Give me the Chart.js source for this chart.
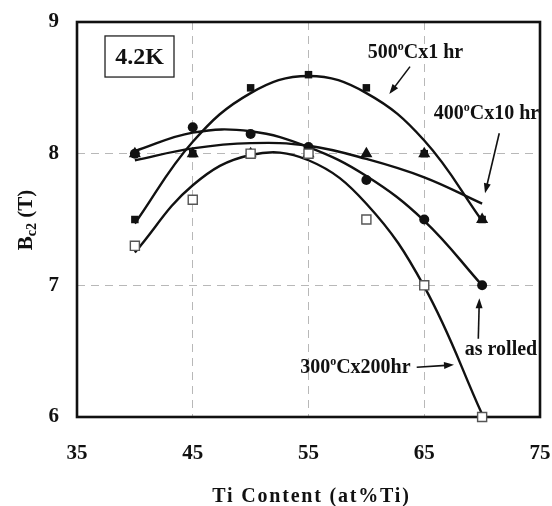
<!DOCTYPE html>
<html>
<head>
<meta charset="utf-8">
<script src="https://cdn.jsdelivr.net/npm/chart.js@4.4.1/dist/chart.umd.min.js"></script>
<style>
  html, body { margin: 0; padding: 0; background: #fff; }
  #wrap { width: 552px; height: 506px; }
</style>
</head>
<body>
<div id="wrap"><canvas id="bc2" width="552" height="506"></canvas></div>
<script>
// Ti content of the samples (at% Ti)
const tiContent = [40, 45, 50, 55, 60, 65, 70];

// measured Bc2 (T) at 4.2K
const h500x1 = [7.5, 8.0, 8.5, 8.6, 8.5, 8.0, 7.5];
const asRolled = [8.0, 8.2, 8.15, 8.05, 7.8, 7.5, 7.0];
const h400x10 = [8.0, 8.0, 8.0, 8.0, 8.0, 8.0, 7.5];
const h300x200 = [7.3, 7.65, 8.0, 8.0, 7.5, 7.0, 6.0];

// trend curves at the same Ti contents
const curve500x1 = [7.47, 8.09, 8.46, 8.59, 8.46, 8.10, 7.49];
const curveRolled = [8.02, 8.16, 8.17, 8.05, 7.83, 7.49, 7.0];
const curve400x10 = [7.95, 8.04, 8.08, 8.06, 7.96, 7.82, 7.62];
const curve300x200 = [7.25, 7.76, 7.99, 7.95, 7.62, 6.99, 6.02];

const xTicks = [35, 45, 55, 65, 75];
const yTicks = [6, 7, 8, 9];

const serif = "'Liberation Serif', 'Times New Roman', serif";

function pts(ys) {
  return tiContent.map((x, i) => ({ x: x, y: ys[i] }));
}

function markers(label, ys, style, radius, fill, stroke, bw) {
  return {
    label: label,
    data: pts(ys),
    showLine: false,
    pointStyle: style,
    pointRadius: radius,
    pointBackgroundColor: fill,
    pointBorderColor: stroke,
    pointBorderWidth: bw,
    clip: false
  };
}

function curve(label, ys) {
  return {
    label: label,
    data: pts(ys),
    showLine: true,
    borderColor: '#111',
    borderWidth: 2.4,
    pointRadius: 0,
    tension: 0.4,
    fill: false,
    clip: false
  };
}

// text with a small raised "o" (degree sign as printed in the figure)
function richText(ctx, parts, cx, cy, size) {
  let total = 0;
  parts.forEach(p => {
    ctx.font = 'bold ' + (p.sup ? Math.round(size * 0.6) : size) + 'px ' + serif;
    p.w = ctx.measureText(p.t).width;
    total += p.w;
  });
  let x = cx - total / 2;
  ctx.textBaseline = 'middle';
  ctx.textAlign = 'left';
  parts.forEach(p => {
    ctx.font = 'bold ' + (p.sup ? Math.round(size * 0.6) : size) + 'px ' + serif;
    ctx.fillText(p.t, x, p.sup ? cy - size * 0.32 : cy);
    x += p.w;
  });
}

function arrow(ctx, x1, y1, x2, y2) {
  const a = Math.atan2(y2 - y1, x2 - x1);
  const len = 10, half = 3.5;
  ctx.beginPath();
  ctx.moveTo(x1, y1);
  ctx.lineTo(x2 - Math.cos(a) * len * 0.8, y2 - Math.sin(a) * len * 0.8);
  ctx.lineWidth = 1.6;
  ctx.strokeStyle = '#111';
  ctx.stroke();
  ctx.beginPath();
  ctx.moveTo(x2, y2);
  ctx.lineTo(x2 - Math.cos(a) * len - Math.sin(a) * half, y2 - Math.sin(a) * len + Math.cos(a) * half);
  ctx.lineTo(x2 - Math.cos(a) * len + Math.sin(a) * half, y2 - Math.sin(a) * len - Math.cos(a) * half);
  ctx.closePath();
  ctx.fillStyle = '#111';
  ctx.fill();
}

const framePlugin = {
  id: 'frame',
  beforeDatasetsDraw(chart) {
    const { ctx, chartArea: a } = chart;
    ctx.save();
    ctx.lineWidth = 2.6;
    ctx.strokeStyle = '#111';
    ctx.strokeRect(a.left, a.top, a.right - a.left, a.bottom - a.top);
    ctx.restore();
  },
  afterDraw(chart) {
    const { ctx, chartArea: a } = chart;
    const xs = chart.scales.x, ys = chart.scales.y;
    const px = v => xs.getPixelForValue(v);
    const py = v => ys.getPixelForValue(v);
    ctx.save();
    ctx.fillStyle = '#111';

    // 4.2K box
    ctx.lineWidth = 1.3;
    ctx.strokeStyle = '#222';
    ctx.fillStyle = '#fff';
    ctx.fillRect(px(37.42), py(8.894), px(43.38) - px(37.42), py(8.582) - py(8.894));
    ctx.strokeRect(px(37.42), py(8.894), px(43.38) - px(37.42), py(8.582) - py(8.894));
    ctx.fillStyle = '#111';
    richText(ctx, [{ t: '4.2K' }], px(40.4), py(8.738) + 1, 24);

    // series labels and arrows
    richText(ctx, [{ t: '500' }, { t: 'o', sup: true }, { t: 'Cx1 hr' }], px(64.24), py(8.765), 20);
    arrow(ctx, px(63.77), py(8.661), px(61.98), py(8.453));

    richText(ctx, [{ t: '400' }, { t: 'o', sup: true }, { t: 'Cx10 hr' }], px(70.38), py(8.301), 20);
    arrow(ctx, px(71.48), py(8.155), px(70.25), py(7.699));

    richText(ctx, [{ t: 'as rolled' }], px(71.63), py(6.51), 20);
    arrow(ctx, px(69.67), py(6.595), px(69.76), py(6.902));

    richText(ctx, [{ t: '300' }, { t: 'o', sup: true }, { t: 'Cx200hr' }], px(59.05), py(6.37), 20);
    arrow(ctx, px(64.35), py(6.378), px(67.57), py(6.396));

    // x axis title
    ctx.font = 'bold 20px ' + serif;
    ctx.textAlign = 'center';
    ctx.textBaseline = 'middle';
    ctx.letterSpacing = '1.8px';
    ctx.fillText('Ti Content (at%Ti)', (a.left + a.right) / 2 + 3, 497);
    ctx.letterSpacing = '0px';

    // y axis title: B with subscript c2
    ctx.translate(27, 220);
    ctx.rotate(-Math.PI / 2);
    const parts = [
      { t: 'B', f: 'bold 21px ' + serif, dy: 0 },
      { t: 'c2', f: 'bold 14px ' + serif, dy: 5 },
      { t: ' (T)', f: 'bold 21px ' + serif, dy: 0 }
    ];
    let tw = 0;
    parts.forEach(p => { ctx.font = p.f; p.w = ctx.measureText(p.t).width; tw += p.w; });
    let x = -tw / 2;
    ctx.textAlign = 'left';
    parts.forEach(p => { ctx.font = p.f; ctx.fillText(p.t, x, p.dy); x += p.w; });
    ctx.restore();
  }
};

const config = {
  type: 'scatter',
  data: {
    datasets: [
      markers('300oCx200hr', h300x200, 'rect', 6.4, '#fff', '#555', 1.4),
      markers('500oCx1 hr', h500x1, 'rect', 5.3, '#111', '#111', 0),
      markers('400oCx10 hr', h400x10, 'triangle', 7, '#111', '#111', 0),
      markers('as rolled', asRolled, 'circle', 5, '#111', '#111', 0),
      curve('500oCx1 hr fit', curve500x1),
      curve('as rolled fit', curveRolled),
      curve('400oCx10 hr fit', curve400x10),
      curve('300oCx200hr fit', curve300x200)
    ]
  },
  options: {
    responsive: false,
    animation: false,
    devicePixelRatio: 1,
    layout: { padding: { top: 22, right: 12, left: 0, bottom: 0 } },
    plugins: {
      legend: { display: false },
      tooltip: { enabled: false }
    },
    scales: {
      x: {
        type: 'linear',
        min: 35,
        max: 75,
        afterBuildTicks: s => { s.ticks = xTicks.map(v => ({ value: v })); },
        afterFit: s => {
          s.height = 89;
          s.paddingLeft = 0;
          s.paddingRight = 0;
        },
        ticks: {
          color: '#111',
          padding: 24,
          font: { family: serif, size: 21, weight: 'bold' }
        },
        grid: { color: '#b8b8b8', lineWidth: 1, drawTicks: false },
        border: { display: false, dash: [8, 6] }
      },
      y: {
        min: 6,
        max: 9,
        afterBuildTicks: s => { s.ticks = yTicks.map(v => ({ value: v })); },
        afterFit: s => {
          s.width = 77;
          s.paddingTop = 0;
          s.paddingBottom = 0;
        },
        ticks: {
          color: '#111',
          padding: 18,
          font: { family: serif, size: 21, weight: 'bold' }
        },
        grid: { color: '#b8b8b8', lineWidth: 1, drawTicks: false },
        border: { display: false, dash: [8, 6] }
      }
    }
  },
  plugins: [framePlugin]
};

new Chart(document.getElementById('bc2'), config);
</script>
</body>
</html>
